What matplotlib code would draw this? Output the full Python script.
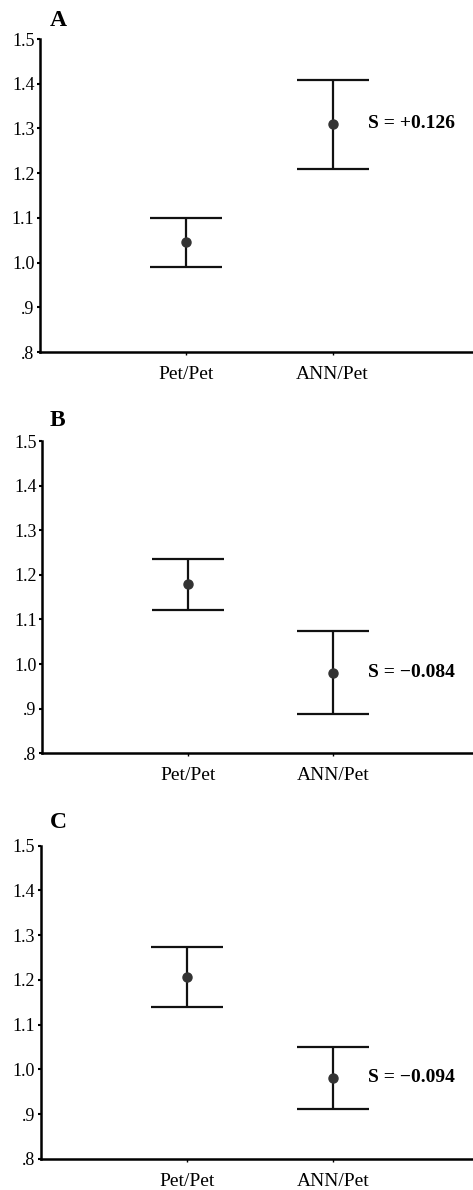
import matplotlib
matplotlib.use("Agg")
import matplotlib.pyplot as plt

plt.rcParams['font.family'] = ['Liberation Serif', 'DejaVu Serif']

groups = ['Pet/Pet', 'ANN/Pet']
panel_names = ['A', 'B', 'C']

# mean, upper, lower
means_a = [1.045, 1.310]
upper_a = [1.100, 1.408]
lower_a = [0.991, 1.210]

means_b = [1.179, 0.981]
upper_b = [1.235, 1.075]
lower_b = [1.121, 0.889]

means_c = [1.207, 0.982]
upper_c = [1.274, 1.050]
lower_c = [1.140, 0.912]

s_labels = ['S = +0.126', 'S = \u22120.084', 'S = \u22120.094']

yticks = [0.8, 0.9, 1.0, 1.1, 1.2, 1.3, 1.4, 1.5]
ytick_labels = ['.8', '.9', '1.0', '1.1', '1.2', '1.3', '1.4', '1.5']

data = [(means_a, upper_a, lower_a), (means_b, upper_b, lower_b), (means_c, upper_c, lower_c)]

fig = plt.figure(figsize=(4.73, 11.90), dpi=100)

# axes boxes [left, bottom, width, height] in figure coords
boxes = [[0.0846, 0.7042, 0.9154, 0.2630],
         [0.0890, 0.3670, 0.9110, 0.2624],
         [0.0860, 0.0261, 0.9140, 0.2632]]
letter_y = [0.983, 0.647, 0.309]

for i, (m, up, lo) in enumerate(data):
    ax = fig.add_axes(boxes[i])
    x = [1, 2]
    yerr = [[m[j] - lo[j] for j in range(2)], [up[j] - m[j] for j in range(2)]]
    ax.errorbar(x, m, yerr=yerr, fmt='o', color='#111111', ecolor='#111111',
                elinewidth=1.6, capsize=26, capthick=1.6, markersize=6.5,
                markerfacecolor='#333333', markeredgecolor='#333333')
    ax.set_xlim(0.0, 2.96)
    ax.set_ylim(0.8, 1.5)
    ax.set_yticks(yticks)
    ax.set_yticklabels(ytick_labels, fontsize=13)
    ax.set_xticks(x)
    ax.set_xticklabels(groups, fontsize=14)
    ax.spines['top'].set_visible(False)
    ax.spines['right'].set_visible(False)
    ax.spines['left'].set_linewidth(1.8)
    ax.spines['bottom'].set_linewidth(1.8)
    ax.tick_params(axis='y', length=2, width=1.5, pad=2)
    ax.tick_params(axis='x', length=2, width=1.0, pad=8)
    ax.text(2.24, m[1], s_labels[i], fontsize=14, fontweight='bold', va='center', ha='left')
    fig.text(0.105, letter_y[i], panel_names[i], fontsize=17, fontweight='bold', ha='left', va='center')

plt.savefig('out.png', dpi=100)
